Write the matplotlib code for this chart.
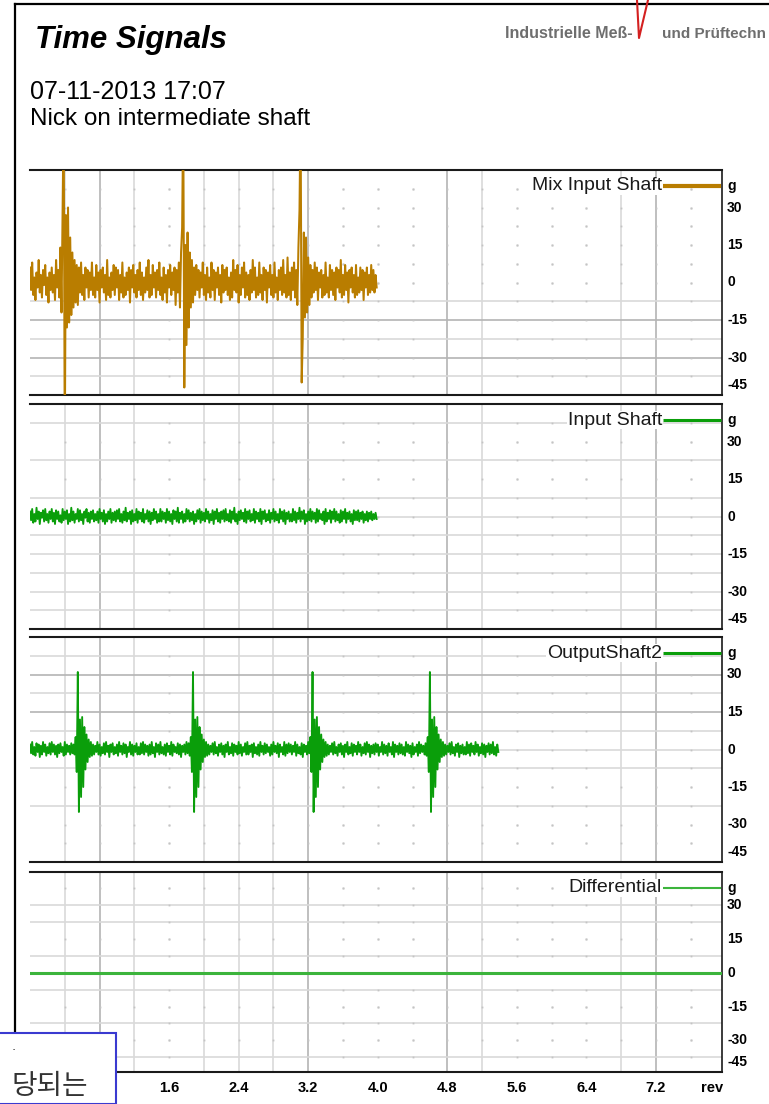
import numpy as np
import matplotlib
matplotlib.use('Agg')
import matplotlib.pyplot as plt
from matplotlib import transforms
from matplotlib.lines import Line2D
from matplotlib.patches import Rectangle

plt.rcParams['font.family'] = ['Liberation Sans', 'DejaVu Sans']

W, H = 769, 1104

# sample spacing of the time signals (rev)
step = 0.0125

mix_input = [
    6, -3, 8, -5, 2, -7, 4, -2, 9, -4, 3, -6, 5, -1, 7, -5, 2, -8, 4, -3,
    6, -4, 3, -7, 9, -2, 5, -6, 14, -12, 30, 70, -70, 27, -18, 30, -16, 18, -13, 12,
    -10, 9, -8, 7, -9, 6, -4, 8, -5, 3, -7, 6, -2, 5, -6, 4, -3, 8, -5, 2,
    -6, 7, -3, 4, -8, 5, -2, 6, -4, 3, -7, 9, -5, 2, -6, 4, -3, 7, -5, 6,
    -2, 5, -7, 3, -4, 8, -6, 2, -5, 4, -3, 6, -8, 5, -2, 7, -4, 3, -6, 5,
    -3, 8, -5, 4, -7, 2, -4, 6, -3, 9, -6, 3, -5, 7, -2, 4, -6, 5, -3, 8,
    -5, 2, -7, 6, -4, 3, -8, 5, -2, 7, -5, 4, -3, 6, -9, 5, -4, 8, -10, 12,
    22, 70, -42, 15, -25, 20, -18, 12, -10, 9, -8, 6, -5, 7, -3, 5, -6, 4, -2, 8,
    -5, 3, -7, 6, -4, 2, -6, 8, -3, 5, -7, 4, -2, 6, -5, 3, -8, 7, -4, 5,
    -3, 6, -5, 2, -7, 4, -6, 9, -3, 5, -4, 7, -8, 3, -5, 6, -2, 8, -6, 4,
    -5, 3, -7, 5, -4, 9, -3, 6, -6, 2, -5, 8, -4, 3, -7, 6, -3, 5, -8, 4,
    -2, 7, -5, 3, -6, 8, -4, 2, -7, 5, -3, 6, -5, 9, -4, 3, -6, 10, -5, 4,
    -7, 6, -3, 8, -6, 5, -9, 14, 29, 70, -40, -22, 20, -14, 18, -12, 10, -9, 7, -6,
    5, -4, 8, -3, 6, -7, 4, -2, 5, -6, 3, -5, 8, -4, 2, -6, 7, -3, 5, -5,
    4, -7, 6, -2, 5, -4, 9, -6, 3, -5, 7, -3, 4, -8, 5, -2, 6, -4, 3, -6,
    7, -5, 2, -4, 6, -3, 5, -7, 4, -2, 6, -5, 3, -4, 7, -3, 5, -4, 3, -2,
]

input_shaft = [
    2, -1.5, 3, -2.5, 1, -2, 3.5, -1, 2, -3, 1.5, -0.5, 2.5, -2, 3, -1.5, 1, -2.5, 2, -1,
    3, -2, 1.5, -3, 2.5, -1, 2, -2, 0.5, -2.5, 3, -1.5, 2, -1, 2.5, -3, 1, -2, 3.5, -1.5,
    2, -2.5, 1, -1, 3, -2, 2.5, -1.5, 1, -3, 2, -0.5, 3, -2, 1.5, -2.5, 2, -1, 2.5, -2,
    1, -1.5, 2, -2.5, 3, -1, 1.5, -2, 2.5, -3, 1, -2, 2, -1, 3, -2.5, 1.5, -1.5, 2, -2,
    2.5, -1, 3, -2, 1, -2.5, 2, -1.5, 3.5, -2, 1.5, -1, 2, -3, 2.5, -2, 1, -1.5, 3, -2.5,
    2, -1, 1.5, -2, 3, -2.5, 1, -1, 2.5, -2, 2, -3, 1.5, -1.5, 3, -1, 2, -2.5, 1, -2,
    3, -2, 2, -1, 1.5, -2.5, 3, -1.5, 2, -2, 1, -3, 2.5, -1, 2, -2, 3.5, -2.5, 1.5, -1,
    2, -2.5, 1, -2, 3, -1, 2.5, -2, 1.5, -1.5, 2, -3, 1, -2, 2.5, -1, 3, -2.5, 2, -1.5,
    1.5, -2, 3, -1, 2, -2.5, 1, -1.5, 2.5, -3, 2, -1, 3, -2, 1.5, -2.5, 2, -1, 2.5, -2,
    3, -1.5, 1, -2, 2.5, -2.5, 2, -1, 3.5, -2, 1, -3, 2, -1.5, 2.5, -1, 1.5, -2, 3, -2.5,
    2, -1, 2.5, -2, 1, -1.5, 3, -2.5, 2, -1, 1.5, -2, 3, -3, 2, -1, 2.5, -2, 1, -1.5,
    2.5, -2.5, 1.5, -1, 3, -2, 2, -1.5, 1, -2.5, 3, -1, 2, -2, 2.5, -3, 1.5, -1, 2, -2,
    1, -2, 3, -1.5, 2, -2.5, 1.5, -1, 3.5, -2, 2, -1, 2.5, -3, 1, -2, 2, -1.5, 3, -2,
    2, -1, 1.5, -2.5, 3, -2, 2.5, -1, 1, -1.5, 2, -3, 3, -2, 1.5, -1, 2.5, -2.5, 2, -1,
    3, -2, 2, -1.5, 1, -2.5, 2.5, -2, 2, -1, 3, -2.5, 1.5, -1, 2, -2, 1, -3, 2.5, -1.5,
    2, -1.5, 2.5, -2, 1.5, -1, 2, -2.5, 1, -1.5, 2, -2, 1.5, -1, 2, -1.5, 1, -1, 1.5, -1,
]

output_shaft2 = [
    2, -1.5, 3, -2, 1, -2.5, 2.5, -1, 2, -3, 1.5, -2, 3, -1, 2, -2.5, 1, -1.5, 2.5, -2,
    3, -1, 2, -2, 1.5, -3, 2, -1.5, 2.5, -1, 1, -2.5, 3, -2, 2, -1, 1.5, -2, 2.5, -1.5,
    2, -2, 5, -9, 31, -25, 12, -19, 13, -15, 9, -8, 6, -5, 4, -3, 3, -2.5, 2, -2,
    1.5, -1, 3, -2, 2, -2.5, 1, -1.5, 2.5, -2, 3, -1, 1.5, -3, 2, -1, 2.5, -2, 1, -1.5,
    2, -2.5, 3, -1, 1.5, -2, 2.5, -1.5, 2, -3, 1, -1, 3, -2, 2, -2.5, 1.5, -1, 2.5, -2,
    1, -2, 2.5, -1.5, 3, -2, 2, -1, 1.5, -2.5, 2, -2, 3, -1.5, 1, -3, 2.5, -1, 2, -2,
    3, -1.5, 1, -2, 2, -2.5, 2.5, -1, 1.5, -2, 3, -2.5, 2, -1, 1, -1.5, 2.5, -2, 2, -3,
    1.5, -1, 2, -2, 3, -1.5, 2.5, -2.5, 5, -9, 31, -25, 12, -19, 13, -15, 9, -8, 6, -5,
    4, -3, 3, -2.5, 2, -2, 1.5, -1, 2.5, -2, 3, -1.5, 1, -2.5, 2, -1, 2.5, -2, 1.5, -3,
    2, -1, 3, -2, 1, -1.5, 2.5, -2.5, 2, -1, 1.5, -2, 3, -1.5, 2, -2.5, 1, -1, 2.5, -2,
    3, -2, 1.5, -1, 2, -3, 2.5, -1.5, 1, -2, 2, -2.5, 3, -1, 1.5, -2, 2.5, -1.5, 2, -1,
    1, -2.5, 2, -2, 3, -1, 1.5, -1.5, 2.5, -3, 2, -1, 1, -2, 3, -2.5, 2, -1.5, 2.5, -1,
    2, -2, 1.5, -1, 3, -2.5, 2, -1.5, 1, -2, 2.5, -3, 2, -1, 1.5, -2, 3, -1.5, 5, -9,
    31, -25, 12, -19, 13, -15, 9, -8, 6, -5, 4, -3, 3, -2.5, 2, -2, 1.5, -1, 2.5, -2,
    3, -1.5, 1, -2.5, 2, -1, 2.5, -2, 1.5, -3, 2, -1, 3, -2, 1, -1.5, 2.5, -2.5, 2, -1,
    1.5, -2, 3, -1, 2, -2.5, 1, -1.5, 2.5, -2, 3, -1, 2, -3, 1.5, -1.5, 2, -2, 2.5, -1,
    2, -2.5, 1, -1, 3, -2, 2, -1.5, 1.5, -2.5, 2.5, -1, 1, -2, 3, -3, 2, -1, 1.5, -2,
    2.5, -1.5, 2, -2, 1, -2.5, 3, -1, 2, -1.5, 1.5, -3, 2.5, -2, 1, -1, 2, -2.5, 3, -1.5,
    2, -1, 1.5, -2, 2.5, -2.5, 5, -9, 31, -25, 12, -19, 13, -15, 9, -8, 6, -5, 4, -3,
    3, -2.5, 2, -2, 1.5, -1, 2.5, -2, 3, -1.5, 1, -2.5, 2, -1, 2.5, -3, 1.5, -1.5, 2, -2,
    1, -2, 3, -1.5, 2, -2.5, 2.5, -1, 1.5, -2, 3, -1, 2, -2.5, 1, -1.5, 2.5, -2, 2, -3,
    1.5, -1, 2.5, -2, 2, -1.5, 3, -2, 1, -2.5, 2, -1,
]

differential_rev = [0.0, 7.96]
differential_g = [0.0, 0.0]

y_tick_vals = [30, 15, 0, -15, -30]
y_tick_labels = ['30', '15', '0', '-15', '-30']
x_tick_vals = [0.8, 1.6, 2.4, 3.2, 4.0, 4.8, 5.6, 6.4, 7.2]
x_tick_labels = ['0.8', '1.6', '2.4', '3.2', '4.0', '4.8', '5.6', '6.4', '7.2']

# grid layout of the original display
v_solid = [0.4, 0.8, 1.2, 2.0, 2.4, 2.8, 3.2, 4.8, 5.2, 6.8, 7.2]
v_dark = [0.8, 3.2, 4.8, 7.2]
v_dot = [1.6, 3.6, 4.0, 4.4, 5.6, 6.0, 6.4, 7.6]
v_all = v_solid + v_dot
h_all = [37.5, 30, 22.5, 15, 7.5, 0, -7.5, -15, -22.5, -30, -37.5]

panels = [
    dict(name='Mix Input Shaft', data=mix_input, color='#b97d00', lw_leg=3.0, lw=1.45,
         top=170, bottom=395, ylim=(-45, 45),
         h_solid=[-7.5, -15, -22.5, -30, -37.5], h_dark=[-15, -30],
         h_dot=[37.5, 30, 22.5, 15, 7.5, 0]),
    dict(name='Input Shaft', data=input_shaft, color='#0a9e0a', lw_leg=2.2, lw=1.35,
         top=404, bottom=629, ylim=(-45, 45),
         h_solid=[37.5, 22.5, 7.5, 0, -7.5, -15, -22.5, -30, -37.5], h_dark=[],
         h_dot=[30, 15]),
    dict(name='OutputShaft2', data=output_shaft2, color='#0a9e0a', lw_leg=2.2, lw=1.35,
         top=637, bottom=862, ylim=(-45, 45),
         h_solid=[37.5, 30, 22.5, 15, 7.5, 0, -7.5, -22.5], h_dark=[30, 15],
         h_dot=[-15, -30, -37.5]),
    dict(name='Differential', data=None, color='#3cb43c', lw_leg=1.5, lw=2.2,
         top=872, bottom=1072, ylim=(-44, 44.6),
         h_solid=[30, 22.5, 7.5, 0, -7.5, -22.5, -37.5], h_dark=[],
         h_dot=[37.5, 15, -15, -30]),
]

fig = plt.figure(figsize=(W / 100, H / 100), dpi=100)
fig.patch.set_facecolor('white')

# outer page frame
fig.add_artist(Line2D([15 / W, 15 / W], [1 - 4 / H, 0], color='black', lw=1.6))
fig.add_artist(Line2D([15 / W, 1], [1 - 4 / H, 1 - 4 / H], color='black', lw=1.6))

# headline
fig.text(35 / W, 1 - 48 / H, 'Time Signals', fontsize=22.5, weight='bold',
         style='italic', va='baseline', ha='left')
fig.text(30 / W, 1 - 99 / H, '07-11-2013 17:07', fontsize=18, va='baseline', ha='left')
fig.text(30 / W, 1 - 125 / H, 'Nick on intermediate shaft', fontsize=17.5,
         va='baseline', ha='left')

# logo
fig.text(505 / W, 1 - 34 / H, 'Industrielle Meß-', fontsize=11.5, weight='bold',
         color='#6e6e6e', va='center', ha='left')
fig.text(662 / W, 1 - 34 / H, 'und Prüftechn', fontsize=11, weight='bold',
         color='#6e6e6e', va='center', ha='left')
fig.add_artist(Line2D([637 / W, 639 / W, 648 / W], [1, 1 - 38 / H, 1],
                      color='#d42020', lw=1.5))

left, right = 30, 722
xmax = 7.96
axes = []
for p in panels:
    ax = fig.add_axes([left / W, 1 - p['bottom'] / H, (right - left) / W,
                       (p['bottom'] - p['top']) / H])
    axes.append(ax)
    ax.set_xlim(0, xmax)
    ax.set_ylim(*p['ylim'])
    ax.set_xticks([])
    ax.set_yticks([])
    ax.spines['left'].set_visible(False)
    for s in ['top', 'bottom']:
        ax.spines[s].set_color('#1a1a1a')
        ax.spines[s].set_linewidth(1.5)
    ax.spines['right'].set_color('#1a1a1a')
    ax.spines['right'].set_linewidth(1.2)

    # grid
    for v in v_solid:
        ax.axvline(v, color='#b4b4b4' if v in v_dark else '#d9d9d9', lw=1.2, zorder=1)
    for h in p['h_solid']:
        ax.axhline(h, color='#b4b4b4' if h in p['h_dark'] else '#d9d9d9', lw=1.2, zorder=1)
    for v in v_dot:
        ax.plot([v] * len(h_all), h_all, ls='none', marker='s', ms=1.3,
                color='#c4c4c4', mec='none', zorder=1)
    for h in p['h_dot']:
        ax.plot(v_all, [h] * len(v_all), ls='none', marker='s', ms=1.3,
                color='#c4c4c4', mec='none', zorder=1)

    # signal
    if p['data'] is not None:
        rev = np.arange(len(p['data'])) * step
        ax.plot(rev, p['data'], color=p['color'], lw=p['lw'], zorder=3)
    else:
        ax.plot(differential_rev, differential_g, color=p['color'], lw=p['lw'], zorder=3)

    # legend entry at top right
    hpx = p['bottom'] - p['top']
    ly = 1 - 16 / hpx
    ax.text((662 - left) / (right - left), ly, p['name'], transform=ax.transAxes,
            ha='right', va='center', fontsize=14, color='#1a1a1a', zorder=5,
            bbox=dict(facecolor='white', edgecolor='none', pad=0.5))
    ax.plot([(663 - left) / (right - left), 0.999], [ly, ly], transform=ax.transAxes,
            color=p['color'], lw=p['lw_leg'], zorder=5, solid_capstyle='butt')

    # right-hand scale
    tr = transforms.blended_transform_factory(ax.transAxes, ax.transData)
    lx = (727 - left) / (right - left)
    ax.text(lx, ly, 'g', transform=ax.transAxes, ha='left', va='center',
            fontsize=10, weight='bold', clip_on=False)
    for val, lab in zip(y_tick_vals, y_tick_labels):
        ax.text(lx, val, lab, transform=tr, ha='left', va='center',
                fontsize=10, weight='bold', clip_on=False)
    ax.text(lx, 10 / hpx, '-45', transform=ax.transAxes, ha='left', va='center',
            fontsize=10, weight='bold', clip_on=False)

# x scale under the last panel
ax4 = axes[-1]
trx = transforms.blended_transform_factory(ax4.transData, ax4.transAxes)
for val, lab in zip(x_tick_vals, x_tick_labels):
    ax4.text(val, -16 / 200, lab, transform=trx, ha='center', va='center',
             fontsize=10.5, weight='bold', clip_on=False)
ax4.text((712 - left) / (right - left), -16 / 200, 'rev', transform=ax4.transAxes,
         ha='center', va='center', fontsize=10.5, weight='bold', clip_on=False)

# overlapping note box at the bottom left
box = Rectangle((-2 / W, 0), 118 / W, (H - 1033) / H, transform=fig.transFigure,
                facecolor='white', edgecolor='#3a3ad0', lw=1.5, zorder=20)
fig.add_artist(box)
fig.text(14 / W, 1 - 1050 / H, '·', fontsize=9, color='black', ha='center',
         va='center', zorder=21)
fig.text(88 / W, 1 - 1086 / H, '당되는', fontsize=20, color='#333333',
         family=['Noto Sans CJK KR', 'DejaVu Sans'], ha='right', va='center',
         zorder=21)

fig.savefig('out.png', dpi=100)
